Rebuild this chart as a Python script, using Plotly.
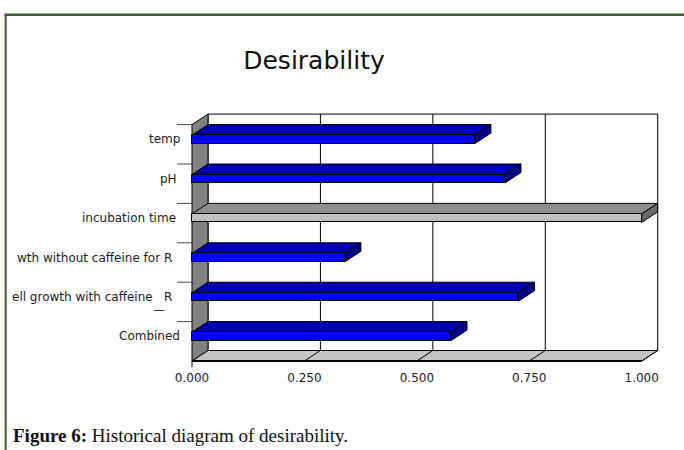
import plotly.graph_objects as go

# ---- data -------------------------------------------------------------
categories = [
    "temp",
    "pH\u00a0",
    "incubation time\u00a0",
    "wth without caffeine for R\u00a0\u00a0",
    "ell growth with caffeine\u00a0\u00a0\u00a0R\u00a0\u00a0",
    "Combined",
]
desirability = [0.629, 0.696, 1.0, 0.340, 0.726, 0.576]
x_ticks = [0.0, 0.25, 0.5, 0.75, 1.0]
x_tick_labels = ["0.000", "0.250", "0.500", "0.750", "1.000"]
title_text = "Desirability"
caption_text = "<b>Figure 6:</b> Historical diagram of desirability."

# ---- page geometry ----------------------------------------------------
W, H = 684, 450
X0_PX, PX_PER_X = 192, 449.7      # where x=0 sits, pixels per unit of x
Y0_PX, PX_PER_BAND = 361, 39.4    # floor front edge, pixels per category band
x_range = [-X0_PX / PX_PER_X, (W - X0_PX) / PX_PER_X]
y_range = [-(H - Y0_PX) / PX_PER_BAND, Y0_PX / PX_PER_BAND]

DX = 16 / PX_PER_X        # depth offset of the 3-D box, x direction
DY = 10.5 / PX_PER_BAND   # depth offset of the 3-D box, y direction
FH = 8.5 / PX_PER_BAND    # height of a bar's front face

n = len(categories)
BLUE = ("#0000ff", "#0000b0", "#00008b")   # front, top, side
GREY = ("#c0c0c0", "#8e8e8e", "#6a6a6a")
palettes = [GREY if c.startswith("incubation") else BLUE for c in categories]

def poly(points):
    return "M " + " L ".join(f"{x},{y}" for x, y in points) + " Z"

shapes = []
line_k = dict(color="#000000", width=1)

# back wall and its gridlines
shapes.append(dict(type="rect", xref="x", yref="y", x0=DX, x1=1 + DX,
                   y0=DY, y1=n + DY, fillcolor="#ffffff", line=line_k, layer="below"))
for t in x_ticks[1:-1]:
    shapes.append(dict(type="line", xref="x", yref="y", x0=t + DX, x1=t + DX,
                       y0=DY, y1=n + DY, line=line_k, layer="below"))

# left wall
shapes.append(dict(type="path", xref="x", yref="y",
                   path=poly([(0, 0), (0, n), (DX, n + DY), (DX, DY)]),
                   fillcolor="#828282", line=line_k, layer="below"))
# floor
shapes.append(dict(type="path", xref="x", yref="y",
                   path=poly([(0, 0), (1, 0), (1 + DX, DY), (DX, DY)]),
                   fillcolor="#c4c4c4", line=line_k, layer="below"))
for t in x_ticks[1:]:
    shapes.append(dict(type="line", xref="x", yref="y", x0=t, x1=t + DX,
                       y0=0, y1=DY, line=line_k, layer="below"))
shapes.append(dict(type="line", xref="x", yref="y", x0=0, x1=1, y0=0, y1=0,
                   line=dict(color="#000000", width=2), layer="below"))
shapes.append(dict(type="line", xref="x", yref="y", x0=0, x1=0, y0=0,
                   y1=-6 / PX_PER_BAND, line=line_k, layer="below"))

# category separators on the left
for i in range(n):
    shapes.append(dict(type="line", xref="x", yref="y", x0=-15 / PX_PER_X, x1=0,
                       y0=i + 1, y1=i + 1, line=dict(color="#444444", width=1),
                       layer="below"))

# bar tops and sides
centers = []
for k, (v, pal) in enumerate(zip(desirability, palettes)):
    band_top = n - k
    ft = band_top - DY
    fb = ft - FH
    centers.append((ft + fb) / 2)
    shapes.append(dict(type="path", xref="x", yref="y",
                       path=poly([(0, ft), (v, ft), (v + DX, ft + DY), (DX, ft + DY)]),
                       fillcolor=pal[1], line=line_k, layer="below"))
    shapes.append(dict(type="path", xref="x", yref="y",
                       path=poly([(v, ft), (v + DX, ft + DY), (v + DX, fb + DY), (v, fb)]),
                       fillcolor=pal[2], line=line_k, layer="below"))

# page frame
FRAME = "#3b6030"
shapes.append(dict(type="line", xref="paper", yref="paper", x0=4.5 / W, x1=1,
                   y0=1 - 14.8 / H, y1=1 - 14.8 / H, line=dict(color=FRAME, width=2.5)))
shapes.append(dict(type="line", xref="paper", yref="paper", x0=5.7 / W, x1=5.7 / W,
                   y0=1 - 14 / H, y1=0, line=dict(color=FRAME, width=2)))

fig = go.Figure(go.Bar(
    x=desirability, y=centers, base=0, width=FH, orientation="h",
    marker=dict(color=[p[0] for p in palettes], line=dict(color="#000000", width=1)),
    hoverinfo="skip",
))

annotations = []
label_font = dict(family="DejaVu Sans", size=12, color="#222222")
for cat, yc in zip(categories, centers):
    annotations.append(dict(x=-10 / PX_PER_X, y=yc, xref="x", yref="y", text=cat,
                            xanchor="right", yanchor="middle", showarrow=False,
                            font=label_font))
# stray underscore below the caffeine label
annotations.append(dict(x=-33 / PX_PER_X, y=centers[4], yshift=-13, xref="x", yref="y",
                        text="\u2014", xanchor="center", yanchor="middle",
                        showarrow=False, font=dict(family="DejaVu Sans", size=12,
                                                   color="#333333")))
annotations.append(dict(x=11 / W, y=1 - 435 / H, xref="paper", yref="paper",
                        text=caption_text, xanchor="left", yanchor="middle",
                        showarrow=False,
                        font=dict(family="Liberation Serif", size=19, color="#111111")))

fig.update_layout(
    width=W, height=H,
    margin=dict(l=0, r=0, t=0, b=0),
    paper_bgcolor="#ffffff", plot_bgcolor="rgba(0,0,0,0)",
    showlegend=False,
    title=dict(text=title_text, x=314 / W, y=1 - 60 / H, xref="paper", yref="paper",
               xanchor="center", yanchor="middle",
               font=dict(family="DejaVu Sans", size=25, color="#111111")),
    xaxis=dict(range=x_range, anchor="free", position=(H - Y0_PX) / H,
               tickvals=x_ticks, ticktext=x_tick_labels, ticks="outside", ticklen=6,
               tickcolor="rgba(0,0,0,0)", showgrid=False, zeroline=False,
               showline=False, tickfont=dict(family="DejaVu Sans", size=12, color="#222222")),
    yaxis=dict(range=y_range, visible=False),
    shapes=shapes,
    annotations=annotations,
    bargap=0,
)

fig.write_html("out.html")
